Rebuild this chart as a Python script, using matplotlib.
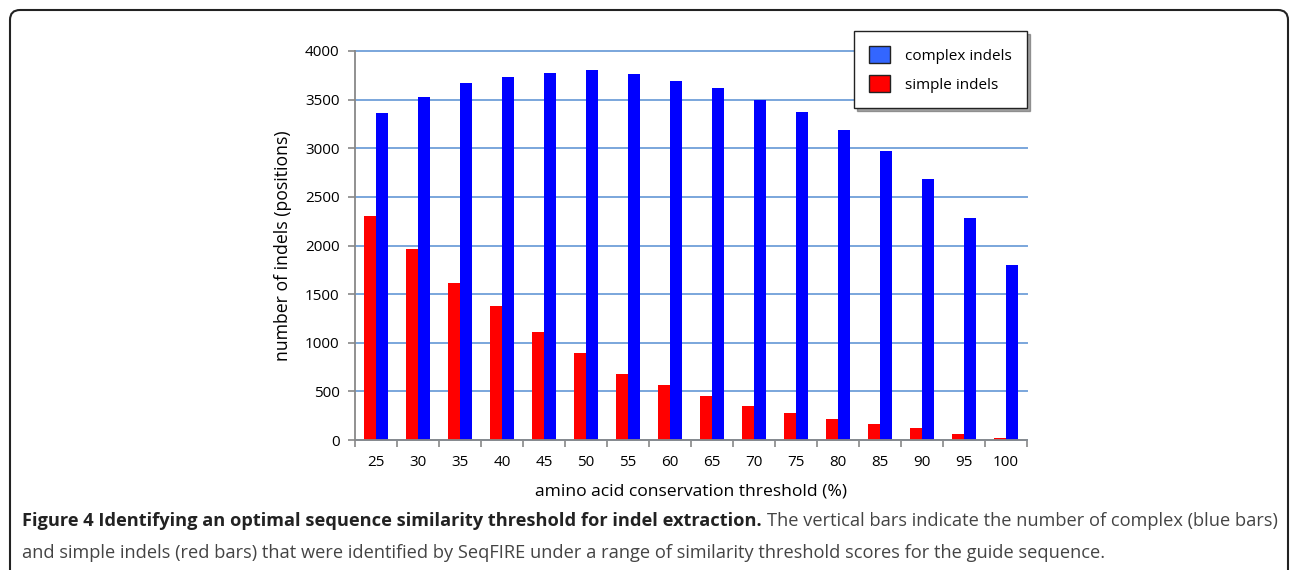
import matplotlib
matplotlib.use("Agg")
import matplotlib.pyplot as plt
import numpy as np
from matplotlib.patches import Patch, FancyBboxPatch
from matplotlib.transforms import IdentityTransform

thresholds = ["25", "30", "35", "40", "45", "50", "55", "60", "65", "70", "75", "80", "85", "90", "95", "100"]
complex_indels = [3366, 3530, 3668, 3729, 3774, 3801, 3767, 3695, 3616, 3496, 3373, 3188, 2975, 2680, 2283, 1796]
simple_indels = [2300, 1967, 1614, 1381, 1107, 898, 682, 569, 452, 353, 278, 219, 165, 120, 58, 21]
yticks = [0, 500, 1000, 1500, 2000, 2500, 3000, 3500, 4000]

W, H = 1292, 570
fig = plt.figure(figsize=(W / 100, H / 100), dpi=100)
plt.rcParams['font.family'] = ['Open Sans', 'DejaVu Sans']

ax = fig.add_axes([355 / W, 1 - 440 / H, 672 / W, 389 / H])
x = np.arange(len(thresholds))
bw = 0.293
ax.bar(x - bw / 2, simple_indels, width=bw, color="#ff0000", zorder=3)
ax.bar(x + bw / 2, complex_indels, width=bw, color="#0000ff", zorder=3)

ax.set_xlim(-0.5, len(thresholds) - 0.5)
ax.set_ylim(0, 4000)
ax.set_yticks(yticks)
ax.set_yticklabels([str(v) for v in yticks], fontsize=11)
ax.yaxis.grid(True, color="#7aa6dc", linewidth=1.4, zorder=0)
for gl in ax.get_ygridlines():
    gl.set_clip_on(False)
ax.set_axisbelow(True)
ax.set_xticks(x)
ax.set_xticklabels(thresholds, fontsize=11)
ax.tick_params(axis='x', which='major', length=0, pad=11)
ax.set_xticks(np.arange(-0.5, len(thresholds)), minor=True)
ax.tick_params(axis='x', which='minor', length=5, color="#888888", width=1.2)
ax.tick_params(axis='y', length=5, color="#888888", width=1.2, pad=6)
for s in ["top", "right"]:
    ax.spines[s].set_visible(False)
for s in ["left", "bottom"]:
    ax.spines[s].set_color("#888888")
    ax.spines[s].set_linewidth(1.3)
    ax.spines[s].set_zorder(4)

fig.text(283 / W, 1 - 246 / H, "number of indels (positions)", rotation=90,
         ha="center", va="center", fontsize=12.7)
fig.text(691 / W, 1 - 492 / H, "amino acid conservation threshold (%)",
         ha="center", va="center", fontsize=12.6)

handles = [Patch(facecolor="#3366ff", edgecolor="#222222", label="complex indels"),
           Patch(facecolor="#ff0000", edgecolor="#222222", label="simple indels")]
leg = fig.legend(handles=handles, loc="upper left", bbox_to_anchor=(854 / W, 1 - 31 / H),
                 fontsize=11, frameon=True, fancybox=False, shadow=True,
                 handlelength=1.37, handleheight=1.3, handletextpad=0.95,
                 borderpad=1.0, labelspacing=0.75, borderaxespad=0)
leg.get_frame().set_edgecolor("#222222")
leg.get_frame().set_linewidth(1.0)

# outer frame
frame = FancyBboxPatch((10, -40), 1278, 570 - 10 + 40, boxstyle="round,pad=0,rounding_size=10",
                       transform=IdentityTransform(), fill=False, edgecolor="#222222",
                       linewidth=1.5)
fig.add_artist(frame)

# caption
fig.canvas.draw()
r = fig.canvas.get_renderer()
fs = 13.15
y1 = 1 - 521 / H
y2 = 1 - 553 / H
t1 = fig.text(22 / W, y1, "Figure 4 Identifying an optimal sequence similarity threshold for indel extraction.",
              fontsize=fs, fontweight="bold", color="#222222", va="center", ha="left")
bb = t1.get_window_extent(r)
fig.text((bb.x1 + 5) / W, y1,
         "The vertical bars indicate the number of complex (blue bars)",
         fontsize=fs, color="#444444", va="center", ha="left")
fig.text(22 / W, y2,
         "and simple indels (red bars) that were identified by SeqFIRE under a range of similarity threshold scores for the guide sequence.",
         fontsize=fs, color="#444444", va="center", ha="left")

fig.savefig("out.png", dpi=100)
